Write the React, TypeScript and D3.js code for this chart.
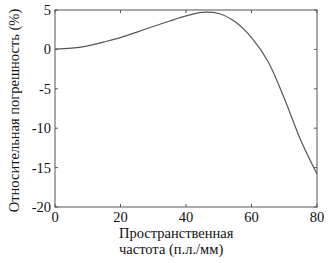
import React from "react";
import * as d3 from "d3";

const freq = [0, 5, 10, 15, 20, 25, 30, 35, 40, 45, 50, 55, 60, 65, 70, 75, 80];
const errorPct = [0.05, 0.15, 0.45, 0.95, 1.5, 2.2, 2.9, 3.6, 4.25, 4.7, 4.55, 3.5, 1.5, -1.5, -6.2, -11.5, -15.8];
const xTicks = [0, 20, 40, 60, 80];
const yTicks = [5, 0, -5, -10, -15, -20];

export default function App() {
  const W = 332, H = 263;
  const left = 55, right = 317, top = 10, bottom = 207;
  const x = d3.scaleLinear().domain([0, 80]).range([left, right]);
  const y = d3.scaleLinear().domain([-20, 5]).range([bottom, top]);
  const line = d3.line<number>().x((_, i) => x(freq[i])).y((d) => y(d)).curve(d3.curveCatmullRom.alpha(0.5));
  const font = "'Liberation Serif', 'Times New Roman', serif";
  const tl = 3;
  const fs = 14.5;
  return (
    <svg width={W} height={H} style={{ position: "absolute", left: 0, top: 0, background: "#fff" }} fontFamily={font}>
      <rect x={left} y={top} width={right - left} height={bottom - top} fill="none" stroke="#555" strokeWidth={1} />
      {xTicks.map((t) => (
        <g key={"x" + t}>
          <line x1={x(t)} x2={x(t)} y1={bottom} y2={bottom - tl} stroke="#555" />
          <line x1={x(t)} x2={x(t)} y1={top} y2={top + tl} stroke="#555" />
          <text x={x(t)} y={222} textAnchor="middle" fontSize={fs} fill="#111">{t}</text>
        </g>
      ))}
      {yTicks.map((t) => (
        <g key={"y" + t}>
          <line x1={left} x2={left + tl} y1={y(t)} y2={y(t)} stroke="#555" />
          <line x1={right} x2={right - tl} y1={y(t)} y2={y(t)} stroke="#555" />
          <text x={51} y={y(t) + 5} textAnchor="end" fontSize={fs} fill="#111">{t}</text>
        </g>
      ))}
      <path d={line(errorPct) || ""} fill="none" stroke="#555" strokeWidth={1.2} />
      <text transform={`translate(19,${(top + bottom) / 2 + 2}) rotate(-90)`} textAnchor="middle" fontSize={fs} fill="#111">
        Относительная погрешность (%)
      </text>
      <text x={119} y={238} fontSize={fs} fill="#111">Пространственная</text>
      <text x={119} y={254} fontSize={fs} fill="#111">частота (п.л./мм)</text>
    </svg>
  );
}
